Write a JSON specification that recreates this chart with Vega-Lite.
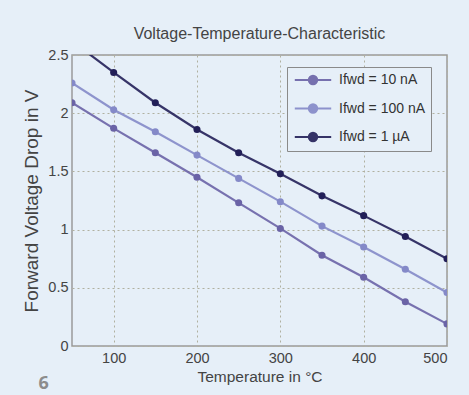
{
  "$schema": "https://vega.github.io/schema/vega-lite/v6.json",
  "width": 375,
  "height": 291,
  "autosize": {"type": "none"},
  "padding": {"left": 72, "top": 55, "right": 22, "bottom": 49},
  "background": "#e6eff8",
  "config": {
    "font": "Liberation Sans",
    "view": {"stroke": "#9a9a9a", "strokeWidth": 1.5, "fill": "#e6eff8"},
    "axis": {
      "labelFont": "Liberation Sans",
      "titleFont": "Liberation Sans",
      "labelColor": "#444444",
      "titleColor": "#444444",
      "labelFontSize": 14.5,
      "titleFontWeight": "normal",
      "ticks": false,
      "domain": false,
      "grid": true,
      "gridColor": "#b0b0a0",
      "gridDash": [2, 3],
      "gridWidth": 1
    }
  },
  "title": {
    "text": "Voltage-Temperature-Characteristic",
    "font": "Liberation Sans",
    "fontSize": 16,
    "fontWeight": "normal",
    "color": "#444444",
    "anchor": "middle",
    "offset": 5
  },
  "datasets": {
    "curves": [
      {"temp": 50, "v": 2.09, "series": "Ifwd = 10 nA"},
      {"temp": 100, "v": 1.87, "series": "Ifwd = 10 nA"},
      {"temp": 150, "v": 1.66, "series": "Ifwd = 10 nA"},
      {"temp": 200, "v": 1.45, "series": "Ifwd = 10 nA"},
      {"temp": 250, "v": 1.23, "series": "Ifwd = 10 nA"},
      {"temp": 300, "v": 1.01, "series": "Ifwd = 10 nA"},
      {"temp": 350, "v": 0.78, "series": "Ifwd = 10 nA"},
      {"temp": 400, "v": 0.59, "series": "Ifwd = 10 nA"},
      {"temp": 450, "v": 0.38, "series": "Ifwd = 10 nA"},
      {"temp": 500, "v": 0.19, "series": "Ifwd = 10 nA"},
      {"temp": 50, "v": 2.26, "series": "Ifwd = 100 nA"},
      {"temp": 100, "v": 2.03, "series": "Ifwd = 100 nA"},
      {"temp": 150, "v": 1.84, "series": "Ifwd = 100 nA"},
      {"temp": 200, "v": 1.64, "series": "Ifwd = 100 nA"},
      {"temp": 250, "v": 1.44, "series": "Ifwd = 100 nA"},
      {"temp": 300, "v": 1.24, "series": "Ifwd = 100 nA"},
      {"temp": 350, "v": 1.03, "series": "Ifwd = 100 nA"},
      {"temp": 400, "v": 0.85, "series": "Ifwd = 100 nA"},
      {"temp": 450, "v": 0.66, "series": "Ifwd = 100 nA"},
      {"temp": 500, "v": 0.46, "series": "Ifwd = 100 nA"},
      {"temp": 50, "v": 2.62, "series": "Ifwd = 1 µA"},
      {"temp": 100, "v": 2.35, "series": "Ifwd = 1 µA"},
      {"temp": 150, "v": 2.09, "series": "Ifwd = 1 µA"},
      {"temp": 200, "v": 1.86, "series": "Ifwd = 1 µA"},
      {"temp": 250, "v": 1.66, "series": "Ifwd = 1 µA"},
      {"temp": 300, "v": 1.48, "series": "Ifwd = 1 µA"},
      {"temp": 350, "v": 1.29, "series": "Ifwd = 1 µA"},
      {"temp": 400, "v": 1.12, "series": "Ifwd = 1 µA"},
      {"temp": 450, "v": 0.94, "series": "Ifwd = 1 µA"},
      {"temp": 500, "v": 0.75, "series": "Ifwd = 1 µA"}
    ],
    "pagenum": [{"temp": 16, "v": -0.33, "label": "6"}]
  },
  "layer": [
    {
      "data": {"name": "curves"},
      "mark": {"type": "line", "clip": true, "strokeWidth": 2.2, "opacity": 0.9},
      "encoding": {
        "x": {
          "field": "temp", "type": "quantitative",
          "scale": {"domain": [50, 500], "nice": false},
          "axis": {"values": [100, 200, 300, 400, 500], "title": "Temperature in °C", "titleFontSize": 15.5, "labelPadding": 5, "titlePadding": 5}
        },
        "y": {
          "field": "v", "type": "quantitative",
          "scale": {"domain": [0, 2.5], "nice": false},
          "axis": {"values": [0, 0.5, 1, 1.5, 2, 2.5], "format": "~g", "title": "Forward Voltage Drop in V", "titleFontSize": 19, "labelPadding": 4, "titlePadding": 6}
        },
        "color": {
          "field": "series", "type": "nominal",
          "scale": {
            "domain": ["Ifwd = 10 nA", "Ifwd = 100 nA", "Ifwd = 1 µA"],
            "range": ["#6a63a6", "#8489c8", "#221f58"]
          },
          "legend": {
            "title": null,
            "orient": "none",
            "legendX": 215,
            "legendY": 12,
            "direction": "vertical",
            "fillColor": "#e6eff8",
            "strokeColor": "#8a8a8a",
            "padding": 5,
            "rowPadding": 10.5,
            "symbolType": "M-2.6,0L2.6,0M-0.6,0A0.6,0.6 0 1,1 0.6,0A0.6,0.6 0 1,1 -0.6,0Z",
            "symbolSize": 196,
            "symbolStrokeWidth": 2,
            "symbolOffset": 13,
            "labelOffset": 18,
            "labelFont": "Liberation Sans",
            "labelFontSize": 14,
            "labelColor": "#333333",
            "labelLimit": 200
          }
        }
      }
    },
    {
      "data": {"name": "curves"},
      "mark": {"type": "point", "filled": true, "clip": true, "size": 50, "opacity": 1},
      "encoding": {
        "x": {"field": "temp", "type": "quantitative"},
        "y": {"field": "v", "type": "quantitative"},
        "color": {"field": "series", "type": "nominal"}
      }
    },
    {
      "data": {"name": "pagenum"},
      "mark": {"type": "text", "clip": false, "fontSize": 18, "fontWeight": "bold", "color": "#8c8c8c", "font": "Open Sans", "align": "center", "baseline": "middle"},
      "encoding": {
        "x": {"field": "temp", "type": "quantitative"},
        "y": {"field": "v", "type": "quantitative"},
        "text": {"field": "label"}
      }
    }
  ]
}
